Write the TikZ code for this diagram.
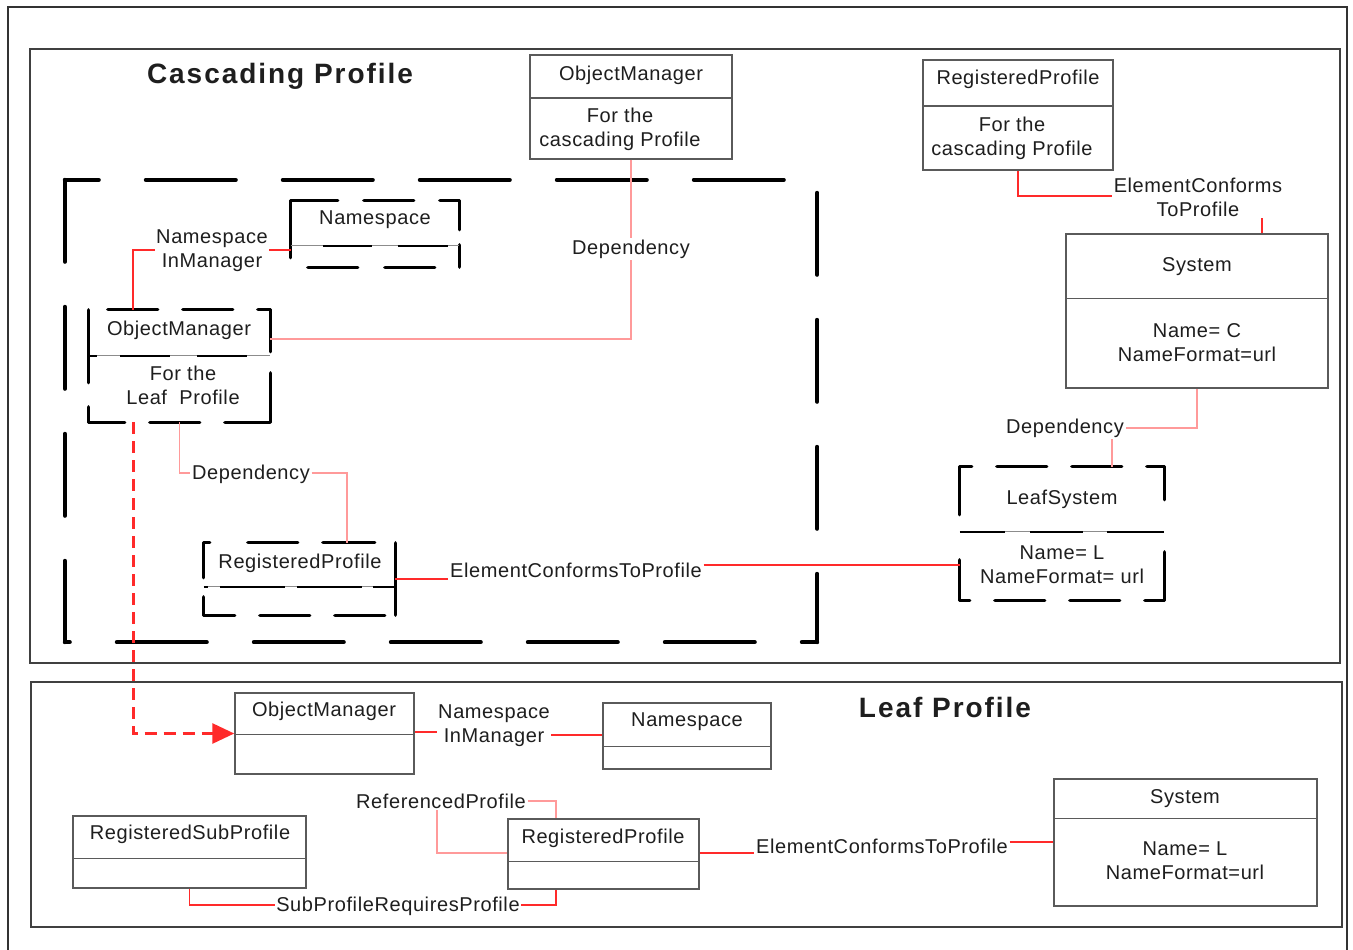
\documentclass[tikz,border=0pt]{standalone}
\usepackage{fontspec}
\setmainfont{Liberation Sans}
\newfontfamily\bodyfont[LetterSpace=3]{Liberation Sans}
\newfontfamily\titlefont[LetterSpace=7]{Liberation Sans}
\usetikzlibrary{arrows.meta}
\definecolor{boxgray}{HTML}{5A5A5A}
\definecolor{txtc}{HTML}{1E1E1E}
\definecolor{lred}{HTML}{FF2A2A}
\definecolor{lpink}{HTML}{FF9A9A}
\definecolor{framec}{HTML}{404040}
\tikzset{
  umlbox/.style={draw=boxgray, line width=1.5pt, rectangle, inner sep=0pt},
  dnode/.style={rectangle, inner sep=0pt, draw=none},
  txt/.style={font=\bodyfont\fontsize{20}{24}\selectfont, text=txtc, align=center, inner sep=2pt},
  lbl/.style={txt, inner sep=1.5pt},
  ttl/.style={font=\titlefont\bfseries\fontsize{28}{32}\selectfont, text=txtc},
  conn/.style={draw=lred, line width=1.8pt},
  dep/.style={draw=lpink, line width=1.5pt},
  divline/.style={draw=boxgray, line width=1.5pt},
  thindiv/.style={draw=black!45, line width=1pt},
  ddiv/.style={draw=black, line width=2.4pt},
  dbline/.style={draw=black, line cap=round},
  frame/.style={draw=framec, line width=2.5pt},
}
% dashed border: node, line width, top, bottom, left, right side options
\newcommand\dborder[6]{%
  \path (#1.north west); \pgfgetlastxy{\dbxa}{\dbya}%
  \path (#1.south east); \pgfgetlastxy{\dbxb}{\dbyb}%
  \draw[dbline, line width=#2, #3] (\dbxa,\dbya) -- (\dbxb,\dbya);
  \draw[dbline, line width=#2, #4] (\dbxa,\dbyb) -- (\dbxb,\dbyb);
  \draw[dbline, line width=#2, #5] (\dbxa,\dbya) -- (\dbxa,\dbyb);
  \draw[dbline, line width=#2, #6] (\dbxb,\dbya) -- (\dbxb,\dbyb);
}
% dashed divider: node, offset from top, dash options
\newcommand\ddivider[3]{%
  \draw[thindiv] ([yshift=-#2pt]#1.north west) -- ([yshift=-#2pt]#1.north east);
  \draw[ddiv, #3] ([yshift=-#2pt]#1.north west) -- ([yshift=-#2pt]#1.north east);
}
\begin{document}
\begin{tikzpicture}[x=1pt,y=-1pt]
\useasboundingbox[fill=white] (0,0) rectangle (1353,950);
% outer frame
\draw[draw=black!80, line width=2pt] (8,950) -- (8,7) -- (1347,7) -- (1347,950);
% profile frames
\node[dnode, minimum width=1310pt, minimum height=614pt] (casP) at (685,356) {};
\draw[frame] (casP.north west) rectangle (casP.south east);
\node[dnode, minimum width=1311pt, minimum height=245pt] (leafP) at (686.5,804.5) {};
\draw[frame] (leafP.north west) rectangle (leafP.south east);
\node[ttl] (casT) at (280,76) {Cascading Profile};
\node[ttl] (leafT) at (945,707) {Leaf Profile};

% big dashed region
\node[dnode, minimum width=752pt, minimum height=462pt] (cas) at (441,411) {};
\dborder{cas}{4pt}
  {dash pattern=on 90pt off 47pt, dash phase=56pt}
  {dash pattern=on 90pt off 47pt, dash phase=85pt}
  {dash pattern=on 82pt off 45pt}
  {dash pattern=on 82pt off 45pt, dash phase=114pt}

% ---- boxes in cascading profile ----
\node[umlbox, minimum width=202pt, minimum height=104pt] (omc) at (631,107) {};
\draw[divline] ([yshift=-44pt]omc.north west) -- ([yshift=-44pt]omc.north east);
\node[txt] (omcT) at (631,75) {ObjectManager};
\node[txt] (omcB) at (620,129) {For the\\cascading Profile};

\node[umlbox, minimum width=190pt, minimum height=110pt] (rpc) at (1018,115) {};
\draw[divline] ([yshift=-47pt]rpc.north west) -- ([yshift=-47pt]rpc.north east);
\node[txt] (rpcT) at (1018,79) {RegisteredProfile};
\node[txt] (rpcB) at (1012,138) {For the\\cascading Profile};

\node[umlbox, minimum width=262pt, minimum height=154pt] (sysc) at (1197,311) {};
\draw[divline] ([yshift=-65pt]sysc.north west) -- ([yshift=-65pt]sysc.north east);
\node[txt] (syscT) at (1197,267) {System};
\node[txt] (syscB) at (1197,343) {Name= C\\NameFormat=url};

\node[dnode, minimum width=204pt, minimum height=133pt] (leafsys) at (1062,533.5) {};
\dborder{leafsys}{3.3pt}
  {dash pattern=on 50pt off 25pt, dash phase=38pt}
  {dash pattern=on 50pt off 25pt, dash phase=40pt}
  {dash pattern=on 48pt off 45pt}
  {dash pattern=on 33pt off 52pt on 60pt off 10pt}
\ddivider{leafsys}{65}{dash pattern=on 45pt off 25pt on 53pt off 24pt on 60pt off 5pt}
\node[txt] (leafsysT) at (1062,499) {LeafSystem};
\node[txt] (leafsysB) at (1062,565) {Name= L\\NameFormat= url};

\node[dnode, minimum width=168pt, minimum height=66pt] (nsc) at (375,234) {};
\dborder{nsc}{3.3pt}
  {dash pattern=on 50pt off 26pt, dash phase=3pt}
  {dash pattern=on 50pt off 27pt, dash phase=60pt}
  {dash pattern=on 57pt off 20pt}
  {dash pattern=on 29pt off 15pt on 30pt off 10pt}
\ddivider{nsc}{45}{dash pattern=on 49pt off 26pt on 50pt off 43pt, dash phase=136pt}
\node[txt] (nscT) at (375,220) {Namespace};

\node[dnode, minimum width=181pt, minimum height=112pt] (omleaf) at (179.5,366) {};
\dborder{omleaf}{3.3pt}
  {dash pattern=on 50pt off 25pt, dash phase=56pt}
  {dash pattern=on 50pt off 25pt, dash phase=14pt}
  {dash pattern=on 73pt off 24pt}
  {dash pattern=on 42pt off 21pt on 49pt off 10pt}
\ddivider{omleaf}{46}{dash pattern=on 8pt off 23pt on 50pt off 27pt on 50pt off 50pt}
\node[txt] (omleafT) at (179,330) {ObjectManager};
\node[txt] (omleafB) at (183,385) {For the\\Leaf\ \ Profile};

\node[dnode, minimum width=191pt, minimum height=72pt] (rpleaf) at (299.5,579) {};
\dborder{rpleaf}{3.3pt}
  {dash pattern=on 6pt off 38pt on 50pt off 25pt on 52pt off 50pt}
  {dash pattern=on 50pt off 25pt, dash phase=19pt}
  {dash pattern=on 35pt off 19pt on 30pt off 10pt}
  {solid}
\ddivider{rpleaf}{44}{dash pattern=on 4pt off 12pt on 65pt off 12pt on 65pt off 11pt on 30pt off 10pt}
\node[txt] (rpleafT) at (300,563) {RegisteredProfile};

% ---- boxes in leaf profile ----
\node[umlbox, minimum width=179pt, minimum height=81pt] (oml) at (324.5,733.5) {};
\draw[divline] ([yshift=-42pt]oml.north west) -- ([yshift=-42pt]oml.north east);
\node[txt] (omlT) at (324,711) {ObjectManager};

\node[umlbox, minimum width=168pt, minimum height=66pt] (nsl) at (687,736) {};
\draw[divline] ([yshift=-44pt]nsl.north west) -- ([yshift=-44pt]nsl.north east);
\node[txt] (nslT) at (687,722) {Namespace};

\node[umlbox, minimum width=191pt, minimum height=70pt] (rpl) at (603.5,854) {};
\draw[divline] ([yshift=-43pt]rpl.north west) -- ([yshift=-43pt]rpl.north east);
\node[txt] (rplT) at (603,838) {RegisteredProfile};

\node[umlbox, minimum width=233pt, minimum height=72pt] (rsp) at (189.5,852) {};
\draw[divline] ([yshift=-43pt]rsp.north west) -- ([yshift=-43pt]rsp.north east);
\node[txt] (rspT) at (190,834) {RegisteredSubProfile};

\node[umlbox, minimum width=263pt, minimum height=127pt] (sysl) at (1185.5,842.5) {};
\draw[divline] ([yshift=-40pt]sysl.north west) -- ([yshift=-40pt]sysl.north east);
\node[txt] (syslT) at (1185,799) {System};
\node[txt] (syslB) at (1185,861) {Name= L\\NameFormat=url};

% ---- labels ----
\node[lbl] (lNIMc) at (212,251) {Namespace\\InManager};
\node[lbl] (lDepTop) at (631,249) {Dependency};
\node[lbl] (lECTc1) at (1198,197) {ElementConforms\\ToProfile};
\node[lbl] (lDepR) at (1065,428) {Dependency};
\node[lbl] (lDepL) at (251,474) {Dependency};
\node[lbl] (lECTc2) at (576,570) {ElementConformsToProfile};
\node[lbl] (lNIMl) at (494,726) {Namespace\\InManager};
\node[lbl] (lRef) at (441,801) {ReferencedProfile};
\node[lbl] (lSub) at (398,906) {SubProfileRequiresProfile};
\node[lbl] (lECTl) at (882,846) {ElementConformsToProfile};

% ---- connectors ----
\draw[conn] (lNIMc.west |- 0,250) -| (omleaf.north -| 133,0);
\draw[conn] (lNIMc.east |- 0,250) -- (nsc.west |- 0,250);
\draw[dep] (omc.south) -- (lDepTop.north);
\draw[dep] (lDepTop.south) |- (omleaf.east |- 0,339);
\draw[conn] (rpc.south) |- (lECTc1.west |- 0,196);
\draw[conn] (lECTc1.south -| 1262,0) -- (sysc.north -| 1262,0);
\draw[dep] (sysc.south) |- (lDepR.east |- 0,428);
\draw[dep] (lDepR.south -| 1112,0) -- (leafsys.north -| 1112,0);
\draw[dep] (omleaf.south) |- (lDepL.west |- 0,473);
\draw[dep] (lDepL.east |- 0,473) -| (rpleaf.north -| 347,0);
\draw[conn] (rpleaf.east) -- (rpleaf.east -| lECTc2.west);
\draw[conn] (lECTc2.east |- 0,565) -- (leafsys.west |- 0,565);
\draw[draw=lred, line width=3pt, dash pattern=on 12pt off 7pt, -{Triangle[length=22pt,width=20pt]}]
  (omleaf.south -| 133,0) |- (oml.west);
\draw[conn] (oml.east |- 0,732) -- (lNIMl.west |- 0,732);
\draw[conn] (lNIMl.east |- 0,735) -- (nsl.west |- 0,735);
\draw[dep] (lRef.east |- 0,801) -| (rpl.north -| 556,0);
\draw[dep] (lRef.south -| 437,0) |- (rpl.west |- 0,853);
\draw[conn] (rsp.south) |- (lSub.west |- 0,905);
\draw[conn] (lSub.east |- 0,905) -| (rpl.south -| 556,0);
\draw[conn] (rpl.east |- 0,853) -- (lECTl.west |- 0,853);
\draw[conn] (lECTl.east |- 0,842) -- (sysl.west |- 0,842);
\end{tikzpicture}
\end{document}
